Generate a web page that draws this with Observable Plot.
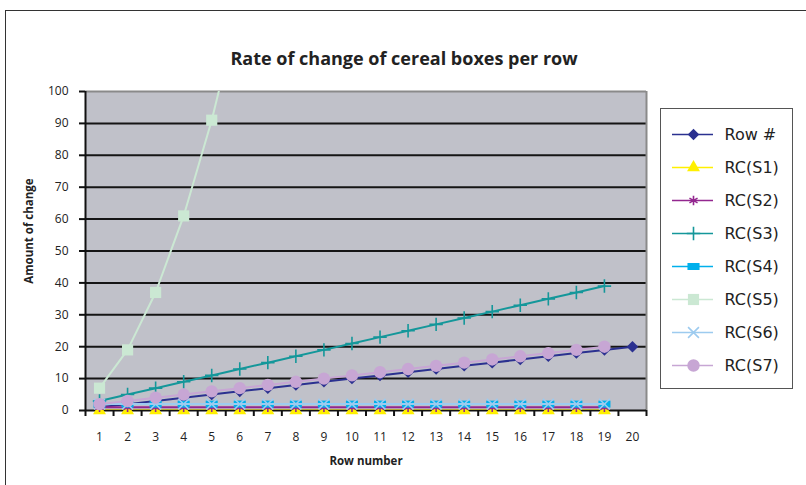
<!DOCTYPE html>
<html>
<head>
<meta charset="utf-8">
<script src="https://cdn.jsdelivr.net/npm/d3@7"></script>
<script src="https://cdn.jsdelivr.net/npm/@observablehq/plot@0.6"></script>
<style>
  html, body { margin: 0; padding: 0; background: #fff; }
  #wrap { position: relative; width: 806px; height: 485px; overflow: hidden; }
  #outer { position: absolute; left: 5px; top: 10px; width: 900px; height: 600px; border: 1.5px solid #333; box-sizing: border-box; }
  #chart { position: absolute; left: 0; top: 0; }
  #legend { position: absolute; left: 660px; top: 108px; width: 133px; height: 281px; border: 1.2px solid #555; box-sizing: border-box; background: #fff; }
  #legend svg, #chart svg { display: block; }
</style>
</head>
<body>
<div id="wrap">
  <div id="outer"></div>
  <div id="chart"></div>
  <div id="legend"></div>
</div>
<script>
// ---- data ----
const title = "Rate of change of cereal boxes per row";
const xLabel = "Row number";
const yLabel = "Amount of change";
const rows = [1,2,3,4,5,6,7,8,9,10,11,12,13,14,15,16,17,18,19,20];
const yTicks = [0,10,20,30,40,50,60,70,80,90,100];
const seriesNames = ["Row #","RC(S1)","RC(S2)","RC(S3)","RC(S4)","RC(S5)","RC(S6)","RC(S7)"];
const rowNum = [1,2,3,4,5,6,7,8,9,10,11,12,13,14,15,16,17,18,19,20];
const rcS1 = [0,0,0,0,0,0,0,0,0,0,0,0,0,0,0,0,0,0,0];
const rcS2 = [1,1,1,1,1,1,1,1,1,1,1,1,1,1,1,1,1,1,1];
const rcS3 = [3,5,7,9,11,13,15,17,19,21,23,25,27,29,31,33,35,37,39];
const rcS4 = [2,2,2,2,2,2,2,2,2,2,2,2,2,2,2,2,2,2,2];
const rcS5 = [7,19,37,61,91,127,169,217,271,331,397,469,547,631,721,817,919,1027,1141];
const rcS6 = [2,2,2,2,2,2,2,2,2,2,2,2,2,2,2,2,2,2,2];
const rcS7 = [2,3,4,5,6,7,8,9,10,11,12,13,14,15,16,17,18,19,20];
const seriesValues = [rowNum, rcS1, rcS2, rcS3, rcS4, rcS5, rcS6, rcS7];

// ---- styles ----
const wideRect = {
  draw(context, size) {
    const s = Math.sqrt(size);
    const w = s * 0.62, h = s * 0.36;
    context.moveTo(-w, -h); context.lineTo(w, -h); context.lineTo(w, h); context.lineTo(-w, h); context.closePath();
  }
};
const styles = [
  {color: "#2b3190", symbol: "diamond2", filled: true, r: 5.2},
  {color: "#fff000", symbol: "triangle", filled: true, r: 4.8},
  {color: "#93278f", symbol: "asterisk", filled: false, r: 4.4},
  {color: "#14979a", symbol: "plus", filled: false, r: 4.4},
  {color: "#00b0ec", symbol: wideRect, filled: true, r: 5.5},
  {color: "#cbe8d3", symbol: "square", filled: true, r: 6.3},
  {color: "#9dcbef", symbol: "times", filled: false, r: 5.0},
  {color: "#c7a6d4", symbol: "circle", filled: true, r: 6.2}
];
const bodyFont = "'DejaVu Sans', sans-serif";
const tickFont = "'Open Sans', 'DejaVu Sans', sans-serif";
const boldFont = "'Open Sans', 'DejaVu Sans', sans-serif";

const series = seriesNames.map((name, i) => ({
  name,
  points: seriesValues[i].map((v, j) => ({x: rows[j], y: v}))
}));

function dotOpts(st) {
  return st.filled
    ? {fill: st.color, stroke: "none", symbol: st.symbol, r: st.r}
    : {fill: "none", stroke: st.color, strokeWidth: 1.6, symbol: st.symbol, r: st.r};
}

const seriesMarks = [];
series.forEach((s, i) => {
  const st = styles[i];
  seriesMarks.push(Plot.line(s.points, {x: "x", y: "y", stroke: st.color, strokeWidth: 2, clip: true}));
  seriesMarks.push(Plot.dot(s.points.filter(d => d.y <= 100), {x: "x", y: "y", ...dotOpts(st)}));
});

const boundaries = rows.map(r => r - 0.5).concat([rows[rows.length - 1] + 0.5]);

const chart = Plot.plot({
  width: 806,
  height: 485,
  marginLeft: 85,
  marginRight: 160,
  marginTop: 91,
  marginBottom: 75,
  x: {domain: [0.5, 20.5], axis: null},
  y: {domain: [0, 100], axis: null},
  style: {fontFamily: tickFont, fontSize: "12px", color: "#222", background: "transparent", overflow: "visible"},
  marks: [
    Plot.frame({fill: "#c0c1c9", stroke: "none"}),
    Plot.gridY({ticks: yTicks.filter(t => t > 0 && t < 100), stroke: "#151515", strokeOpacity: 1, strokeWidth: 2}),
    Plot.ruleY([100], {stroke: "#8a8a8a", strokeWidth: 2}),
    Plot.ruleX([20.5], {stroke: "#8a8a8a", strokeWidth: 2}),
    Plot.axisY({ticks: yTicks, label: null, tickSize: 6, tickPadding: 11, strokeWidth: 2, stroke: "#111", fontSize: 12}),
    Plot.axisX({ticks: boundaries, label: null, tickFormat: () => "", tickSize: 6, strokeWidth: 2, stroke: "#111"}),
    Plot.axisX({ticks: rows, label: null, tickSize: 0, tickPadding: 22, fontSize: 12}),
    Plot.ruleX([0.5], {stroke: "#111", strokeWidth: 2}),
    Plot.ruleY([0], {stroke: "#111", strokeWidth: 2}),
    ...seriesMarks,
    Plot.text([title], {frameAnchor: "top", dx: 38, dy: -39, fontSize: 18, fontWeight: "bold", fill: "#222", fontFamily: boldFont}),
    Plot.text([xLabel], {frameAnchor: "bottom", dy: 54, fontSize: 11.5, fontWeight: "bold", fill: "#222", fontFamily: boldFont}),
    Plot.text([yLabel], {frameAnchor: "left", textAnchor: "middle", dx: -56, dy: -20, rotate: -90, fontSize: 11.5, fontWeight: "bold", fill: "#222", fontFamily: boldFont})
  ]
});
document.getElementById("chart").appendChild(chart);

// ---- legend ----
const legendMarks = [];
seriesNames.forEach((name, i) => {
  const st = styles[i];
  legendMarks.push(Plot.ruleY([name], {y: d => d, x1: 11, x2: 52, stroke: st.color, strokeWidth: 1.6}));
  legendMarks.push(Plot.dot([name], {y: d => d, x: 32, ...dotOpts(st)}));
  legendMarks.push(Plot.text([name], {y: d => d, x: 63, text: d => d, textAnchor: "start", fontSize: 16, fill: "#222"}));
});
const legend = Plot.plot({
  width: 131,
  height: 279,
  margin: 0,
  x: {domain: [0, 131], range: [0, 131], axis: null},
  y: {type: "point", domain: seriesNames, range: [23, 258], padding: 0, axis: null},
  style: {fontFamily: bodyFont, background: "transparent", overflow: "visible"},
  marks: legendMarks
});
document.getElementById("legend").appendChild(legend);
</script>
</body>
</html>
